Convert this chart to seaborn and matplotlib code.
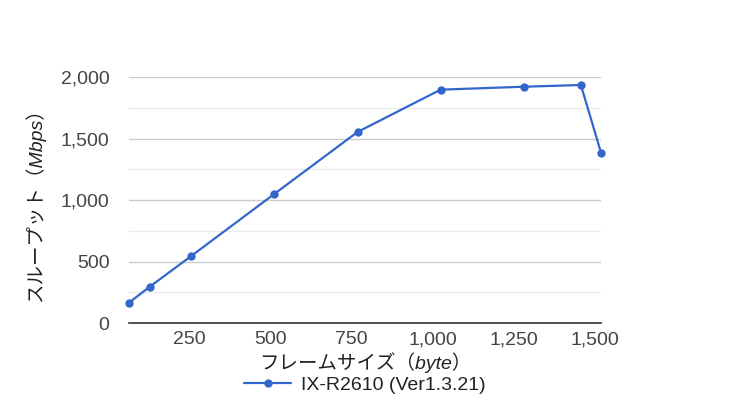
import matplotlib
matplotlib.use('Agg')
import matplotlib.pyplot as plt
import seaborn as sns
import pandas as pd

# Data
frame_sizes = [64, 128, 256, 512, 768, 1024, 1280, 1456, 1518]
throughput = [165, 295, 545, 1050, 1553, 1897, 1921, 1935, 1385]
series_name = 'IX-R2610 (Ver1.3.21)'
y_ticks = [0, 500, 1000, 1500, 2000]
x_ticks = [250, 500, 750, 1000, 1250, 1500]

df = pd.DataFrame({'frame': frame_sizes, 'mbps': throughput})

sns.set_style('white')
plt.rcParams['font.family'] = ['Liberation Sans', 'Noto Sans CJK JP', 'DejaVu Sans']

fig = plt.figure(figsize=(7.3, 4.0), dpi=100)
ax = fig.add_axes([0.1767, 0.1925, 0.8233 - 0.1767, 0.8075 - 0.1925])

sns.lineplot(data=df, x='frame', y='mbps', ax=ax, color='#3366CC',
             marker='o', markersize=6, markeredgewidth=0, linewidth=1.6,
             label=series_name, clip_on=False)

ax.set_xlim(64, 1518)
ax.set_ylim(0, 2000)
ax.set_yticks(y_ticks)
ax.set_yticks([250, 750, 1250, 1750], minor=True)
ax.set_yticklabels([f'{v:,}' for v in y_ticks])
ax.set_xticks(x_ticks)
ax.set_xticklabels([f'{v:,}' for v in x_ticks])

ax.grid(axis='y', which='major', color='#cccccc', linewidth=1)
ax.grid(axis='y', which='minor', color='#ebebeb', linewidth=1)
ax.set_axisbelow(True)
for s in ['top', 'right', 'left']:
    ax.spines[s].set_visible(False)
ax.spines['bottom'].set_color('#333333')
ax.spines['bottom'].set_linewidth(1.2)
ax.tick_params(axis='both', which='both', length=0, labelsize=14, labelcolor='#444444')
ax.tick_params(axis='y', pad=14)
ax.tick_params(axis='x', pad=6)

ax.set_xlabel('フレームサイズ（byte）', fontsize=14, color='#222222', style='italic', labelpad=3)
ax.set_ylabel('スループット（Mbps）', fontsize=14, color='#222222', style='italic', labelpad=11)

leg = ax.legend(loc='center', bbox_to_anchor=(0.5, -0.252), frameon=False,
                fontsize=14, handlelength=2.4, handletextpad=0.5,
                labelcolor='#222222', borderpad=0)

fig.savefig('out.png', dpi=100)
